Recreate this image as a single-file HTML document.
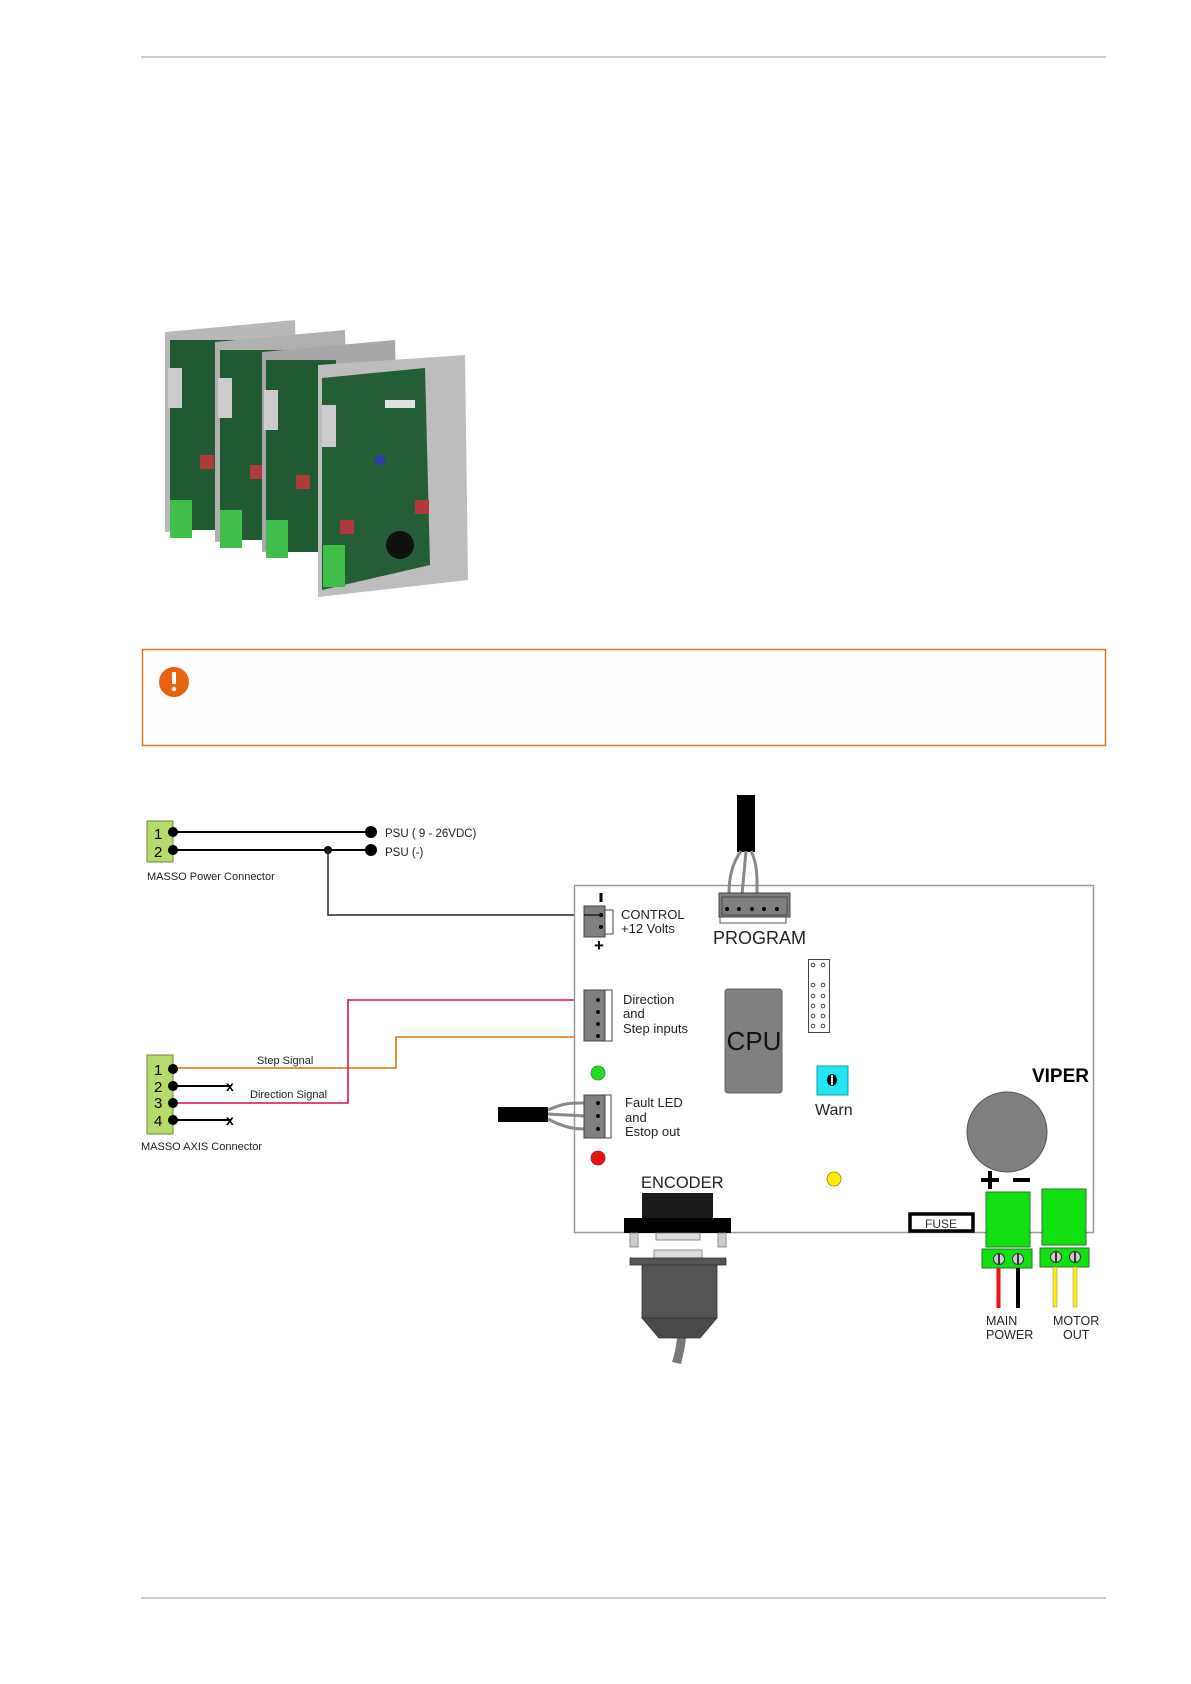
<!DOCTYPE html>
<html><head><meta charset="utf-8"><style>
html,body{margin:0;padding:0;background:#fff;}
svg{display:block;}
text{font-family:"Liberation Sans",Arial,sans-serif;}
</style></head><body>
<svg width="1191" height="1684" viewBox="0 0 1191 1684" xmlns="http://www.w3.org/2000/svg">
<line x1="141" y1="57" x2="1106" y2="57" stroke="#999" stroke-width="1"/>
<line x1="141" y1="1598" x2="1106" y2="1598" stroke="#999" stroke-width="1"/>

<!-- photo -->
<g>
  <g>
    <polygon points="165,332 295,320 300,520 165,532" fill="#b8b8b8"/>
    <rect x="170" y="340" width="70" height="190" fill="#1f5a30"/>
    <rect x="170" y="500" width="22" height="38" fill="#3fbf4a"/>
    <rect x="168" y="368" width="14" height="40" fill="#ccc"/>
    <rect x="200" y="455" width="14" height="14" fill="#b03a3a"/>
  </g>
  <g>
    <polygon points="215,342 345,330 350,530 215,542" fill="#b0b0b0"/>
    <rect x="220" y="350" width="70" height="190" fill="#1f5a30"/>
    <rect x="220" y="510" width="22" height="38" fill="#3fbf4a"/>
    <rect x="218" y="378" width="14" height="40" fill="#ccc"/>
    <rect x="250" y="465" width="14" height="14" fill="#b03a3a"/>
  </g>
  <g>
    <polygon points="262,352 395,340 400,540 262,552" fill="#a8a8a8"/>
    <rect x="266" y="360" width="70" height="192" fill="#1f5a30"/>
    <rect x="266" y="520" width="22" height="38" fill="#3fbf4a"/>
    <rect x="264" y="390" width="14" height="40" fill="#ccc"/>
    <rect x="296" y="475" width="14" height="14" fill="#b03a3a"/>
  </g>
  <g>
    <polygon points="318,365 465,355 468,580 318,597" fill="#bdbdbd"/>
    <polygon points="322,378 425,368 430,565 322,590" fill="#245e34"/>
    <rect x="323" y="545" width="22" height="42" fill="#3fbf4a"/>
    <rect x="322" y="405" width="14" height="42" fill="#ccc"/>
    <rect x="385" y="400" width="30" height="8" fill="#e0e0e0"/>
    <rect x="375" y="455" width="10" height="10" fill="#2a3fa0"/>
    <rect x="415" y="500" width="14" height="14" fill="#b03a3a"/>
    <rect x="340" y="520" width="14" height="14" fill="#b03a3a"/>
    <circle cx="400" cy="545" r="14" fill="#111"/>
  </g>
</g>

<!-- warning box -->
<rect x="142.5" y="649.5" width="963" height="96" fill="#fdfdfd" stroke="#d8781e" stroke-width="1.5"/>
<circle cx="174" cy="682" r="15" fill="#e8630f"/>
<rect x="172" y="672" width="4" height="12" fill="#fff" rx="1"/>
<circle cx="174" cy="689" r="2.2" fill="#fff"/>

<!-- power connector -->
<rect x="147" y="821" width="26" height="41" fill="#b5dc6a" stroke="#6a8a3a" stroke-width="1"/>
<text x="154" y="839" font-size="15">1</text>
<text x="154" y="857" font-size="15">2</text>
<line x1="173" y1="832" x2="371" y2="832" stroke="#000" stroke-width="2"/>
<line x1="173" y1="850" x2="371" y2="850" stroke="#000" stroke-width="2"/>
<circle cx="173" cy="832" r="5" fill="#000"/><circle cx="173" cy="850" r="5" fill="#000"/>
<circle cx="371" cy="832" r="6" fill="#000"/><circle cx="371" cy="850" r="6" fill="#000"/>
<circle cx="328" cy="850" r="4" fill="#000"/>
<text x="385" y="837" font-size="11.5" fill="#222">PSU ( 9 - 26VDC)</text>
<text x="385" y="856" font-size="11.5" fill="#222">PSU (-)</text>
<text x="147" y="880" font-size="11" fill="#222">MASSO Power  Connector</text>
<polyline points="328,850 328,915 600,915" fill="none" stroke="#222" stroke-width="1.5"/>

<!-- axis connector -->
<rect x="147" y="1055" width="26" height="79" fill="#b5dc6a" stroke="#6a8a3a" stroke-width="1"/>
<text x="154" y="1075" font-size="15">1</text>
<text x="154" y="1092" font-size="15">2</text>
<text x="154" y="1108" font-size="15">3</text>
<text x="154" y="1126" font-size="15">4</text>
<line x1="173" y1="1086" x2="231" y2="1086" stroke="#000" stroke-width="2"/>
<line x1="173" y1="1120" x2="231" y2="1120" stroke="#000" stroke-width="2"/>
<text x="226" y="1091" font-size="14" font-weight="bold">x</text>
<text x="226" y="1125" font-size="14" font-weight="bold">x</text>
<polyline points="173,1068 396,1068 396,1037 598,1037" fill="none" stroke="#e0862c" stroke-width="1.8"/>
<polyline points="173,1103 348,1103 348,1000 598,1000" fill="none" stroke="#dc2f6a" stroke-width="1.8"/>
<circle cx="173" cy="1069" r="5" fill="#000"/><circle cx="173" cy="1086" r="5" fill="#000"/>
<circle cx="173" cy="1103" r="5" fill="#000"/><circle cx="173" cy="1120" r="5" fill="#000"/>
<text x="257" y="1064" font-size="11" fill="#222">Step Signal</text>
<text x="250" y="1098" font-size="11" fill="#222">Direction Signal</text>
<text x="141" y="1150" font-size="11" fill="#222">MASSO AXIS Connector</text>

<!-- board -->
<rect x="574.5" y="885.5" width="519" height="347" fill="#fff" stroke="#999" stroke-width="1.5"/>

<!-- program -->
<rect x="737" y="795" width="18" height="57" fill="#000"/>
<path d="M741,851 C731,865 729,880 729,895 M746,851 L742,895 M751,851 C758,865 757,880 757,895" fill="none" stroke="#888" stroke-width="3"/>
<rect x="720" y="917" width="66" height="6" fill="#fff" stroke="#555" stroke-width="1"/>
<rect x="719" y="893" width="71" height="24" fill="#808080" stroke="#444" stroke-width="1"/>
<rect x="722" y="897" width="65" height="18" fill="none" stroke="#444" stroke-width="1"/>
<g fill="#000"><circle cx="727" cy="909" r="2"/><circle cx="739" cy="909" r="2"/><circle cx="752" cy="909" r="2"/><circle cx="764" cy="909" r="2"/><circle cx="777" cy="909" r="2"/></g>
<text x="713" y="944" font-size="18" fill="#222">PROGRAM</text>

<!-- control -->
<rect x="588" y="910" width="25" height="24" fill="#fff" stroke="#444" stroke-width="1"/>
<rect x="584" y="906" width="21" height="31" fill="#808080" stroke="#444" stroke-width="1"/>
<circle cx="601" cy="915" r="2" fill="#000"/><circle cx="601" cy="927" r="2" fill="#000"/>
<line x1="584" y1="915" x2="601" y2="915" stroke="#222" stroke-width="1.5"/>
<rect x="599.5" y="893" width="3" height="9" fill="#000"/>
<text x="594" y="951" font-size="17" font-weight="bold">+</text>
<text x="621" y="919" font-size="13" fill="#222">CONTROL</text>
<text x="621" y="933" font-size="13" fill="#222">+12 Volts</text>

<!-- direction -->
<rect x="588" y="990" width="24" height="51" fill="#fff" stroke="#444" stroke-width="1"/>
<rect x="584" y="990" width="21" height="51" fill="#808080" stroke="#444" stroke-width="1"/>
<g fill="#000"><circle cx="598" cy="1000" r="2"/><circle cx="598" cy="1012" r="2"/><circle cx="598" cy="1024" r="2"/><circle cx="598" cy="1036" r="2"/></g>
<text x="623" y="1004" font-size="13" fill="#222">Direction</text>
<text x="623" y="1018" font-size="13" fill="#222">and</text>
<text x="623" y="1033" font-size="13" fill="#222">Step inputs</text>

<!-- CPU -->
<rect x="725" y="989" width="57" height="104" rx="3" fill="#808080" stroke="#666"/>
<text x="754" y="1050" font-size="26" text-anchor="middle" fill="#111">CPU</text>

<!-- jumper -->
<rect x="808.5" y="959.5" width="21" height="73" fill="#fff" stroke="#444"/>
<g fill="none" stroke="#444" stroke-width="1">
<circle cx="813" cy="965" r="1.8"/><circle cx="823" cy="965" r="1.8"/>
<circle cx="813" cy="985" r="1.8"/><circle cx="823" cy="985" r="1.8"/>
<circle cx="813" cy="996" r="1.8"/><circle cx="823" cy="996" r="1.8"/>
<circle cx="813" cy="1006" r="1.8"/><circle cx="823" cy="1006" r="1.8"/>
<circle cx="813" cy="1016" r="1.8"/><circle cx="823" cy="1016" r="1.8"/>
<circle cx="813" cy="1026" r="1.8"/><circle cx="823" cy="1026" r="1.8"/>
</g>

<!-- LEDs -->
<circle cx="598" cy="1073" r="7" fill="#22dd22" stroke="#2a8a2a" stroke-width="0.8"/>
<circle cx="598" cy="1158" r="7" fill="#ee1111" stroke="#992222" stroke-width="0.8"/>
<circle cx="834" cy="1179" r="7" fill="#ffee00" stroke="#998800" stroke-width="0.8"/>

<!-- warn -->
<rect x="817" y="1066" width="31" height="29" fill="#22e6f2" stroke="#1a9aa8"/>
<ellipse cx="832" cy="1080" rx="5" ry="6" fill="#000"/>
<rect x="831" y="1075" width="2" height="10" fill="#fff"/>
<text x="815" y="1115" font-size="16" fill="#222">Warn</text>

<!-- fault -->
<rect x="498" y="1107" width="50" height="15" fill="#000"/>
<path d="M548,1110 C565,1102 575,1103 586,1103 M548,1114 L586,1116 M548,1119 C565,1128 575,1129 586,1129" fill="none" stroke="#888" stroke-width="3"/>
<rect x="588" y="1095" width="23" height="43" fill="#fff" stroke="#444"/>
<rect x="584" y="1095" width="21" height="43" fill="#808080" stroke="#444"/>
<g fill="#000"><circle cx="598" cy="1103" r="2"/><circle cx="598" cy="1116" r="2"/><circle cx="598" cy="1129" r="2"/></g>
<text x="625" y="1107" font-size="13" fill="#222">Fault LED</text>
<text x="625" y="1122" font-size="13" fill="#222">and</text>
<text x="625" y="1136" font-size="13" fill="#222">Estop out</text>

<!-- encoder -->
<text x="641" y="1188" font-size="16.5" fill="#222">ENCODER</text>
<rect x="642" y="1193" width="71" height="25" fill="#1a1a1a"/>
<rect x="624" y="1218" width="107" height="15" fill="#000"/>
<rect x="630" y="1233" width="8" height="14" fill="#ccc" stroke="#777" stroke-width="0.8"/>
<rect x="718" y="1233" width="8" height="14" fill="#ccc" stroke="#777" stroke-width="0.8"/>
<rect x="656" y="1233" width="44" height="7" fill="#ddd" stroke="#777" stroke-width="0.8"/>
<path d="M677,1338 C676,1348 674,1356 672,1362 L681,1364 C683,1356 685,1348 686,1338 Z" fill="#777"/>
<rect x="654" y="1250" width="48" height="8" fill="#ddd" stroke="#777" stroke-width="0.8"/>
<rect x="630" y="1258" width="96" height="7" fill="#555" stroke="#333" stroke-width="0.8"/>
<rect x="642" y="1265" width="75" height="53" fill="#555" stroke="#333" stroke-width="0.8"/>
<polygon points="642,1318 717,1318 700,1338 659,1338" fill="#4a4a4a" stroke="#333" stroke-width="0.8"/>

<!-- VIPER etc -->
<text x="1089" y="1082" font-size="19" font-weight="bold" text-anchor="end" fill="#000">VIPER</text>
<circle cx="1007" cy="1132" r="40" fill="#808080" stroke="#555"/>
<rect x="981" y="1178" width="18" height="4" fill="#000"/>
<rect x="988" y="1171" width="4" height="18" fill="#000"/>
<rect x="1013" y="1178" width="17" height="4" fill="#000"/>
<rect x="910" y="1214" width="63" height="17" fill="#fff" stroke="#000" stroke-width="3.5"/>
<text x="941" y="1228" font-size="12" text-anchor="middle" fill="#333">FUSE</text>

<rect x="986" y="1192" width="44" height="55" fill="#11e011" stroke="#2a7a2a"/>
<rect x="982" y="1249" width="50" height="19" fill="#11e011" stroke="#2a7a2a"/>
<rect x="996.5" y="1268" width="4" height="40" fill="#ee1111"/>
<rect x="1016" y="1268" width="4" height="40" fill="#000"/>
<circle cx="999" cy="1259" r="5.5" fill="#ccc" stroke="#333"/><rect x="998" y="1254" width="2" height="10" fill="#333"/>
<circle cx="1018" cy="1259" r="5.5" fill="#ccc" stroke="#333"/><rect x="1017" y="1254" width="2" height="10" fill="#333"/>

<rect x="1042" y="1189" width="44" height="56" fill="#11e011" stroke="#2a7a2a"/>
<rect x="1040" y="1248" width="49" height="19" fill="#11e011" stroke="#2a7a2a"/>
<rect x="1053" y="1267" width="4" height="40" fill="#ffee00" stroke="#888" stroke-width="0.5"/>
<rect x="1073" y="1267" width="4" height="40" fill="#ffee00" stroke="#888" stroke-width="0.5"/>
<circle cx="1056" cy="1257" r="5.5" fill="#ccc" stroke="#333"/><rect x="1055" y="1252" width="2" height="10" fill="#333"/>
<circle cx="1075" cy="1257" r="5.5" fill="#ccc" stroke="#333"/><rect x="1074" y="1252" width="2" height="10" fill="#333"/>

<text x="986" y="1325" font-size="12.5" fill="#222">MAIN</text>
<text x="986" y="1339" font-size="12.5" fill="#222">POWER</text>
<text x="1053" y="1325" font-size="12.5" fill="#222">MOTOR</text>
<text x="1063" y="1339" font-size="12.5" fill="#222">OUT</text>
</svg>
</body></html>
